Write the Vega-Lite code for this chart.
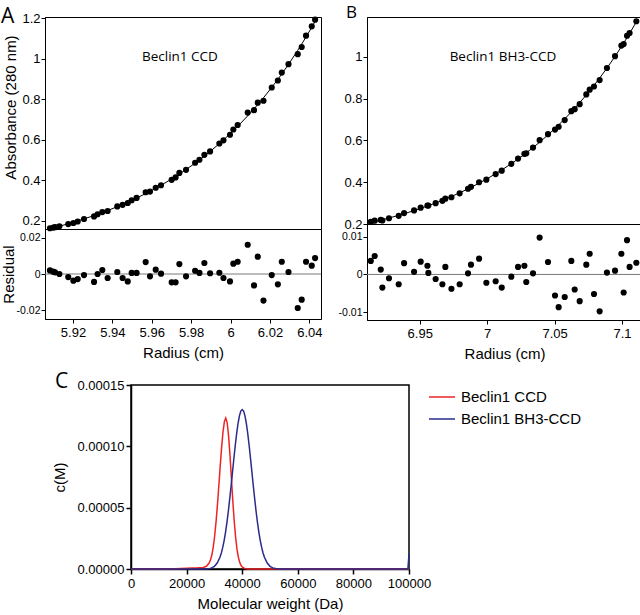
{
  "$schema": "https://vega.github.io/schema/vega-lite/v6.json",
  "background": "white",
  "padding": {"left": 0, "top": 3, "right": 0, "bottom": 0},
  "config": {
    "font": "Liberation Sans",
    "view": {"stroke": "black", "strokeWidth": 1},
    "axis": {"labelFont": "Liberation Sans", "titleFont": "Liberation Sans", "labelColor": "black", "titleColor": "black", "titleFontWeight": "normal", "grid": false, "domainColor": "black", "tickColor": "black", "labelFontSize": 13, "titleFontSize": 15, "tickSize": 4, "labelPadding": 1, "labelOverlap": false, "labelFlush": false},
    "title": {"font": "Open Sans", "fontWeight": "normal", "fontSize": 21, "anchor": "start", "frame": "group", "offset": 0, "baseline": "alphabetic", "color": "black"},
    "circle": {"color": "black", "opacity": 1, "size": 38}
  },
  "datasets": {
    "a": [
      {"r": 5.9083, "abs": 0.1640, "fit": 0.1620, "res": 0.0020},
      {"r": 5.9100, "abs": 0.1675, "fit": 0.1662, "res": 0.0013},
      {"r": 5.9109, "abs": 0.1694, "fit": 0.1685, "res": 0.0009},
      {"r": 5.9131, "abs": 0.1742, "fit": 0.1742, "res": 0.0000},
      {"r": 5.9176, "abs": 0.1847, "fit": 0.1864, "res": -0.0017},
      {"r": 5.9202, "abs": 0.1902, "fit": 0.1939, "res": -0.0037},
      {"r": 5.9224, "abs": 0.1976, "fit": 0.2004, "res": -0.0028},
      {"r": 5.9256, "abs": 0.2097, "fit": 0.2103, "res": -0.0006},
      {"r": 5.9307, "abs": 0.2226, "fit": 0.2270, "res": -0.0044},
      {"r": 5.9325, "abs": 0.2332, "fit": 0.2332, "res": 0.0000},
      {"r": 5.9349, "abs": 0.2439, "fit": 0.2417, "res": 0.0022},
      {"r": 5.9376, "abs": 0.2494, "fit": 0.2516, "res": -0.0022},
      {"r": 5.9425, "abs": 0.2718, "fit": 0.2707, "res": 0.0011},
      {"r": 5.9452, "abs": 0.2796, "fit": 0.2818, "res": -0.0022},
      {"r": 5.9478, "abs": 0.2888, "fit": 0.2929, "res": -0.0041},
      {"r": 5.9498, "abs": 0.3023, "fit": 0.3017, "res": 0.0006},
      {"r": 5.9523, "abs": 0.3137, "fit": 0.3131, "res": 0.0006},
      {"r": 5.9569, "abs": 0.3418, "fit": 0.3352, "res": 0.0066},
      {"r": 5.9591, "abs": 0.3450, "fit": 0.3463, "res": -0.0013},
      {"r": 5.9620, "abs": 0.3639, "fit": 0.3615, "res": 0.0024},
      {"r": 5.9647, "abs": 0.3764, "fit": 0.3762, "res": 0.0002},
      {"r": 5.9701, "abs": 0.4029, "fit": 0.4075, "res": -0.0046},
      {"r": 5.9721, "abs": 0.4151, "fit": 0.4197, "res": -0.0046},
      {"r": 5.9740, "abs": 0.4371, "fit": 0.4316, "res": 0.0055},
      {"r": 5.9774, "abs": 0.4525, "fit": 0.4538, "res": -0.0013},
      {"r": 5.9820, "abs": 0.4874, "fit": 0.4856, "res": 0.0018},
      {"r": 5.9842, "abs": 0.5022, "fit": 0.5016, "res": 0.0006},
      {"r": 5.9867, "abs": 0.5265, "fit": 0.5204, "res": 0.0061},
      {"r": 5.9896, "abs": 0.5434, "fit": 0.5430, "res": 0.0004},
      {"r": 5.9943, "abs": 0.5825, "fit": 0.5818, "res": 0.0007},
      {"r": 5.9964, "abs": 0.5979, "fit": 0.6001, "res": -0.0022},
      {"r": 5.9997, "abs": 0.6257, "fit": 0.6298, "res": -0.0041},
      {"r": 6.0014, "abs": 0.6515, "fit": 0.6458, "res": 0.0057},
      {"r": 6.0036, "abs": 0.6737, "fit": 0.6669, "res": 0.0068},
      {"r": 6.0087, "abs": 0.7349, "fit": 0.7187, "res": 0.0162},
      {"r": 6.0119, "abs": 0.7468, "fit": 0.7531, "res": -0.0063},
      {"r": 6.0138, "abs": 0.7840, "fit": 0.7744, "res": 0.0096},
      {"r": 6.0167, "abs": 0.7932, "fit": 0.8079, "res": -0.0147},
      {"r": 6.0209, "abs": 0.8585, "fit": 0.8591, "res": -0.0006},
      {"r": 6.0240, "abs": 0.8933, "fit": 0.8990, "res": -0.0057},
      {"r": 6.0260, "abs": 0.9324, "fit": 0.9256, "res": 0.0068},
      {"r": 6.0294, "abs": 0.9739, "fit": 0.9728, "res": 0.0011},
      {"r": 6.0341, "abs": 1.0231, "fit": 1.0419, "res": -0.0188},
      {"r": 6.0361, "abs": 1.0586, "fit": 1.0728, "res": -0.0142},
      {"r": 6.0383, "abs": 1.1146, "fit": 1.1078, "res": 0.0068},
      {"r": 6.0412, "abs": 1.1603, "fit": 1.1557, "res": 0.0046},
      {"r": 6.0429, "abs": 1.1935, "fit": 1.1847, "res": 0.0088}
    ],
    "b": [
      {"r": 6.9137, "abs": 0.2101, "fit": 0.2065, "res": 0.0036},
      {"r": 6.9166, "abs": 0.2159, "fit": 0.2110, "res": 0.0049},
      {"r": 6.9211, "abs": 0.2195, "fit": 0.2182, "res": 0.0013},
      {"r": 6.9223, "abs": 0.2166, "fit": 0.2201, "res": -0.0035},
      {"r": 6.9272, "abs": 0.2275, "fit": 0.2285, "res": -0.0010},
      {"r": 6.9344, "abs": 0.2389, "fit": 0.2415, "res": -0.0026},
      {"r": 6.9384, "abs": 0.2521, "fit": 0.2491, "res": 0.0030},
      {"r": 6.9458, "abs": 0.2648, "fit": 0.2641, "res": 0.0007},
      {"r": 6.9507, "abs": 0.2781, "fit": 0.2747, "res": 0.0034},
      {"r": 6.9557, "abs": 0.2884, "fit": 0.2861, "res": 0.0023},
      {"r": 6.9564, "abs": 0.2881, "fit": 0.2877, "res": 0.0004},
      {"r": 6.9618, "abs": 0.2995, "fit": 0.3007, "res": -0.0012},
      {"r": 6.9668, "abs": 0.3109, "fit": 0.3135, "res": -0.0026},
      {"r": 6.9690, "abs": 0.3213, "fit": 0.3193, "res": 0.0020},
      {"r": 6.9735, "abs": 0.3278, "fit": 0.3316, "res": -0.0038},
      {"r": 6.9796, "abs": 0.3465, "fit": 0.3491, "res": -0.0026},
      {"r": 6.9858, "abs": 0.3685, "fit": 0.3682, "res": 0.0003},
      {"r": 6.9880, "abs": 0.3778, "fit": 0.3752, "res": 0.0026},
      {"r": 6.9940, "abs": 0.3995, "fit": 0.3953, "res": 0.0042},
      {"r": 6.9994, "abs": 0.4122, "fit": 0.4144, "res": -0.0022},
      {"r": 7.0063, "abs": 0.4386, "fit": 0.4404, "res": -0.0018},
      {"r": 7.0108, "abs": 0.4549, "fit": 0.4584, "res": -0.0035},
      {"r": 7.0179, "abs": 0.4878, "fit": 0.4884, "res": -0.0006},
      {"r": 7.0229, "abs": 0.5130, "fit": 0.5110, "res": 0.0020},
      {"r": 7.0276, "abs": 0.5355, "fit": 0.5332, "res": 0.0023},
      {"r": 7.0290, "abs": 0.5381, "fit": 0.5401, "res": -0.0020},
      {"r": 7.0340, "abs": 0.5656, "fit": 0.5653, "res": 0.0003},
      {"r": 7.0389, "abs": 0.6011, "fit": 0.5913, "res": 0.0098},
      {"r": 7.0451, "abs": 0.6295, "fit": 0.6262, "res": 0.0033},
      {"r": 7.0503, "abs": 0.6515, "fit": 0.6571, "res": -0.0056},
      {"r": 7.0530, "abs": 0.6652, "fit": 0.6739, "res": -0.0087},
      {"r": 7.0575, "abs": 0.6968, "fit": 0.7028, "res": -0.0060},
      {"r": 7.0624, "abs": 0.7395, "fit": 0.7359, "res": 0.0036},
      {"r": 7.0649, "abs": 0.7494, "fit": 0.7534, "res": -0.0040},
      {"r": 7.0686, "abs": 0.7731, "fit": 0.7802, "res": -0.0071},
      {"r": 7.0735, "abs": 0.8198, "fit": 0.8172, "res": 0.0026},
      {"r": 7.0760, "abs": 0.8423, "fit": 0.8368, "res": 0.0055},
      {"r": 7.0792, "abs": 0.8575, "fit": 0.8627, "res": -0.0052},
      {"r": 7.0834, "abs": 0.8881, "fit": 0.8979, "res": -0.0098},
      {"r": 7.0888, "abs": 0.9460, "fit": 0.9455, "res": 0.0005},
      {"r": 7.0948, "abs": 1.0025, "fit": 1.0015, "res": 0.0010},
      {"r": 7.0995, "abs": 1.0534, "fit": 1.0479, "res": 0.0055},
      {"r": 7.1012, "abs": 1.0604, "fit": 1.0652, "res": -0.0048},
      {"r": 7.1037, "abs": 1.1003, "fit": 1.0912, "res": 0.0091},
      {"r": 7.1056, "abs": 1.1134, "fit": 1.1114, "res": 0.0020},
      {"r": 7.1106, "abs": 1.1697, "fit": 1.1666, "res": 0.0031}
    ],
    "c": [
      {"sample": "Beclin1 CCD", "mw": 0, "c": 0},
      {"sample": "Beclin1 CCD", "mw": 14000, "c": 0},
      {"sample": "Beclin1 CCD", "mw": 16000, "c": 0.0000002},
      {"sample": "Beclin1 CCD", "mw": 20000, "c": 0.0000007},
      {"sample": "Beclin1 CCD", "mw": 24000, "c": 0.000001},
      {"sample": "Beclin1 CCD", "mw": 26000, "c": 0.0000013},
      {"sample": "Beclin1 CCD", "mw": 27100, "c": 0.0000022},
      {"sample": "Beclin1 CCD", "mw": 28100, "c": 0.0000048},
      {"sample": "Beclin1 CCD", "mw": 28600, "c": 0.0000075},
      {"sample": "Beclin1 CCD", "mw": 29100, "c": 0.0000116},
      {"sample": "Beclin1 CCD", "mw": 29600, "c": 0.0000181},
      {"sample": "Beclin1 CCD", "mw": 30100, "c": 0.0000271},
      {"sample": "Beclin1 CCD", "mw": 30600, "c": 0.0000386},
      {"sample": "Beclin1 CCD", "mw": 31100, "c": 0.0000525},
      {"sample": "Beclin1 CCD", "mw": 31600, "c": 0.0000681},
      {"sample": "Beclin1 CCD", "mw": 32100, "c": 0.0000843},
      {"sample": "Beclin1 CCD", "mw": 32600, "c": 0.0000994},
      {"sample": "Beclin1 CCD", "mw": 33100, "c": 0.0001119},
      {"sample": "Beclin1 CCD", "mw": 33600, "c": 0.0001202},
      {"sample": "Beclin1 CCD", "mw": 34100, "c": 0.000123},
      {"sample": "Beclin1 CCD", "mw": 34600, "c": 0.0001192},
      {"sample": "Beclin1 CCD", "mw": 35100, "c": 0.0001085},
      {"sample": "Beclin1 CCD", "mw": 35600, "c": 0.0000929},
      {"sample": "Beclin1 CCD", "mw": 36100, "c": 0.0000746},
      {"sample": "Beclin1 CCD", "mw": 36600, "c": 0.0000563},
      {"sample": "Beclin1 CCD", "mw": 37100, "c": 0.00004},
      {"sample": "Beclin1 CCD", "mw": 37600, "c": 0.0000266},
      {"sample": "Beclin1 CCD", "mw": 38100, "c": 0.0000166},
      {"sample": "Beclin1 CCD", "mw": 38600, "c": 0.0000098},
      {"sample": "Beclin1 CCD", "mw": 39100, "c": 0.0000054},
      {"sample": "Beclin1 CCD", "mw": 39600, "c": 0.0000028},
      {"sample": "Beclin1 CCD", "mw": 40100, "c": 0.0000014},
      {"sample": "Beclin1 CCD", "mw": 41000, "c": 0.0000003},
      {"sample": "Beclin1 CCD", "mw": 42000, "c": 0},
      {"sample": "Beclin1 CCD", "mw": 100000, "c": 0},
      {"sample": "Beclin1 BH3-CCD", "mw": 0, "c": 0},
      {"sample": "Beclin1 BH3-CCD", "mw": 27000, "c": 0},
      {"sample": "Beclin1 BH3-CCD", "mw": 28000, "c": 0.00000013},
      {"sample": "Beclin1 BH3-CCD", "mw": 29000, "c": 0.00000093},
      {"sample": "Beclin1 BH3-CCD", "mw": 30000, "c": 0.0000022},
      {"sample": "Beclin1 BH3-CCD", "mw": 31000, "c": 0.0000048},
      {"sample": "Beclin1 BH3-CCD", "mw": 32000, "c": 0.0000095},
      {"sample": "Beclin1 BH3-CCD", "mw": 32500, "c": 0.0000131},
      {"sample": "Beclin1 BH3-CCD", "mw": 33000, "c": 0.0000176},
      {"sample": "Beclin1 BH3-CCD", "mw": 33500, "c": 0.0000232},
      {"sample": "Beclin1 BH3-CCD", "mw": 34000, "c": 0.0000299},
      {"sample": "Beclin1 BH3-CCD", "mw": 34500, "c": 0.0000378},
      {"sample": "Beclin1 BH3-CCD", "mw": 35000, "c": 0.0000469},
      {"sample": "Beclin1 BH3-CCD", "mw": 35500, "c": 0.0000569},
      {"sample": "Beclin1 BH3-CCD", "mw": 36000, "c": 0.0000677},
      {"sample": "Beclin1 BH3-CCD", "mw": 36500, "c": 0.0000788},
      {"sample": "Beclin1 BH3-CCD", "mw": 37000, "c": 0.00009},
      {"sample": "Beclin1 BH3-CCD", "mw": 37500, "c": 0.0001007},
      {"sample": "Beclin1 BH3-CCD", "mw": 38000, "c": 0.0001104},
      {"sample": "Beclin1 BH3-CCD", "mw": 38500, "c": 0.0001186},
      {"sample": "Beclin1 BH3-CCD", "mw": 39000, "c": 0.0001248},
      {"sample": "Beclin1 BH3-CCD", "mw": 39500, "c": 0.0001287},
      {"sample": "Beclin1 BH3-CCD", "mw": 40000, "c": 0.00013},
      {"sample": "Beclin1 BH3-CCD", "mw": 40500, "c": 0.0001287},
      {"sample": "Beclin1 BH3-CCD", "mw": 41000, "c": 0.0001248},
      {"sample": "Beclin1 BH3-CCD", "mw": 41500, "c": 0.0001186},
      {"sample": "Beclin1 BH3-CCD", "mw": 42000, "c": 0.0001104},
      {"sample": "Beclin1 BH3-CCD", "mw": 42500, "c": 0.0001007},
      {"sample": "Beclin1 BH3-CCD", "mw": 43000, "c": 0.00009},
      {"sample": "Beclin1 BH3-CCD", "mw": 43500, "c": 0.0000788},
      {"sample": "Beclin1 BH3-CCD", "mw": 44000, "c": 0.0000677},
      {"sample": "Beclin1 BH3-CCD", "mw": 44500, "c": 0.0000569},
      {"sample": "Beclin1 BH3-CCD", "mw": 45000, "c": 0.0000469},
      {"sample": "Beclin1 BH3-CCD", "mw": 45500, "c": 0.0000378},
      {"sample": "Beclin1 BH3-CCD", "mw": 46000, "c": 0.0000299},
      {"sample": "Beclin1 BH3-CCD", "mw": 46500, "c": 0.0000232},
      {"sample": "Beclin1 BH3-CCD", "mw": 47000, "c": 0.0000176},
      {"sample": "Beclin1 BH3-CCD", "mw": 47500, "c": 0.0000131},
      {"sample": "Beclin1 BH3-CCD", "mw": 48000, "c": 0.0000095},
      {"sample": "Beclin1 BH3-CCD", "mw": 49000, "c": 0.0000048},
      {"sample": "Beclin1 BH3-CCD", "mw": 50000, "c": 0.0000022},
      {"sample": "Beclin1 BH3-CCD", "mw": 51000, "c": 0.00000093},
      {"sample": "Beclin1 BH3-CCD", "mw": 52000, "c": 0.00000036},
      {"sample": "Beclin1 BH3-CCD", "mw": 53000, "c": 0.00000013},
      {"sample": "Beclin1 BH3-CCD", "mw": 54000, "c": 0},
      {"sample": "Beclin1 BH3-CCD", "mw": 99600, "c": 0},
      {"sample": "Beclin1 BH3-CCD", "mw": 100000, "c": 0.000012}
    ]
  },
  "vconcat": [
    {
      "spacing": 14,
      "hconcat": [
        {
          "bounds": "flush",
          "spacing": 0,
          "vconcat": [
            {
              "width": 276,
              "height": 212,
              "title": {"text": "A", "dx": -44, "offset": -15},
              "layer": [
                {
                  "data": {"name": "a"},
                  "mark": {"type": "line", "color": "black", "strokeWidth": 1},
                  "encoding": {
                    "x": {"field": "r", "type": "quantitative", "scale": {"domain": [5.9058, 6.0459], "nice": false, "zero": false}, "axis": null},
                    "y": {"field": "fit", "type": "quantitative", "title": "Absorbance (280 nm)", "scale": {"domain": [0.1605, 1.2065], "nice": false, "zero": false}, "axis": {"values": [0.2, 0.4, 0.6, 0.8, 1, 1.2], "format": "~g", "titleX": -27, "titleY": 90}}
                  }
                },
                {
                  "data": {"name": "a"},
                  "mark": {"type": "circle"},
                  "encoding": {
                    "x": {"field": "r", "type": "quantitative"},
                    "y": {"field": "abs", "type": "quantitative", "title": "Absorbance (280 nm)"}
                  }
                },
                {
                  "data": {"values": [{"label": "Beclin1 CCD"}]},
                  "mark": {"type": "text", "font": "Open Sans", "fontSize": 13.5, "baseline": "middle", "color": "black"},
                  "encoding": {
                    "x": {"datum": 5.9743, "type": "quantitative"},
                    "y": {"datum": 1.01, "type": "quantitative"},
                    "text": {"field": "label"}
                  }
                }
              ]
            },
            {
              "width": 276,
              "height": 90,
              "layer": [
                {
                  "data": {"values": [{"zero": 0}]},
                  "mark": {"type": "rule", "color": "#7a7a7a", "strokeWidth": 1},
                  "encoding": {
                    "y": {"field": "zero", "type": "quantitative", "title": "Residual"}
                  }
                },
                {
                  "data": {"name": "a"},
                  "mark": {"type": "circle"},
                  "encoding": {
                    "x": {"field": "r", "type": "quantitative", "title": "Radius (cm)", "scale": {"domain": [5.9058, 6.0459], "nice": false, "zero": false}, "axis": {"values": [5.92, 5.94, 5.96, 5.98, 6, 6.02, 6.04], "format": "~g", "labelPadding": 3, "titlePadding": 6}},
                    "y": {"field": "res", "type": "quantitative", "title": "Residual", "scale": {"domain": [-0.0249, 0.0249], "nice": false, "zero": false}, "axis": {"values": [-0.02, 0, 0.02], "format": "~g", "labelExpr": "replace(datum.label, '−', '-')", "labelFontSize": 10.5, "titleX": -29, "titleY": 45}}
                  }
                }
              ]
            }
          ]
        },
        {
          "bounds": "flush",
          "spacing": 0,
          "vconcat": [
            {
              "width": 275,
              "height": 207,
              "title": {"text": "B", "dx": -21, "offset": -5, "fontSize": 17},
              "layer": [
                {
                  "data": {"name": "b"},
                  "mark": {"type": "line", "color": "black", "strokeWidth": 1},
                  "encoding": {
                    "x": {"field": "r", "type": "quantitative", "scale": {"domain": [6.9109, 7.1148], "nice": false, "zero": false}, "axis": null},
                    "y": {"field": "fit", "type": "quantitative", "title": null, "scale": {"domain": [0.2, 1.19], "nice": false, "zero": false}, "axis": {"values": [0.2, 0.4, 0.6, 0.8, 1], "format": "~g"}}
                  }
                },
                {
                  "data": {"name": "b"},
                  "mark": {"type": "circle"},
                  "encoding": {
                    "x": {"field": "r", "type": "quantitative"},
                    "y": {"field": "abs", "type": "quantitative", "title": null}
                  }
                },
                {
                  "data": {"values": [{"label": "Beclin1 BH3-CCD"}]},
                  "mark": {"type": "text", "font": "Open Sans", "fontSize": 13.5, "baseline": "middle", "color": "black"},
                  "encoding": {
                    "x": {"datum": 7.0117, "type": "quantitative"},
                    "y": {"datum": 1.0, "type": "quantitative"},
                    "text": {"field": "label"}
                  }
                }
              ]
            },
            {
              "width": 275,
              "height": 96,
              "layer": [
                {
                  "data": {"values": [{"zero": 0}]},
                  "mark": {"type": "rule", "color": "#7a7a7a", "strokeWidth": 1},
                  "encoding": {
                    "y": {"field": "zero", "type": "quantitative", "title": null}
                  }
                },
                {
                  "data": {"name": "b"},
                  "mark": {"type": "circle"},
                  "encoding": {
                    "x": {"field": "r", "type": "quantitative", "title": "Radius (cm)", "scale": {"domain": [6.9109, 7.1148], "nice": false, "zero": false}, "axis": {"values": [6.95, 7, 7.05, 7.1], "format": "~g", "labelPadding": 3, "titlePadding": 6}},
                    "y": {"field": "res", "type": "quantitative", "title": null, "scale": {"domain": [-0.0121, 0.0134], "nice": false, "zero": false}, "axis": {"values": [-0.01, 0, 0.01], "format": "~g", "labelExpr": "replace(datum.label, '−', '-')", "labelFontSize": 10.5}}
                  }
                }
              ]
            }
          ]
        }
      ]
    },
    {
      "spacing": 0,
      "hconcat": [
        {
          "width": 6,
          "height": 184,
          "view": {"stroke": null},
          "data": {"values": []},
          "mark": {"type": "rule"},
          "encoding": {}
        },
        {
          "width": 278,
          "height": 184,
          "view": {"stroke": "black", "strokeWidth": 1.5},
          "title": {"text": "C", "dx": -76, "offset": -13},
          "data": {"name": "c"},
          "mark": {"type": "line", "strokeWidth": 1.5},
          "encoding": {
            "x": {"field": "mw", "type": "quantitative", "title": "Molecular weight (Da)", "scale": {"domain": [0, 100000], "nice": false}, "axis": {"values": [0, 20000, 40000, 60000, 80000, 100000], "format": "d", "tickSize": 5, "tickWidth": 1.5, "domainWidth": 1.5, "labelPadding": 3, "titlePadding": 6}},
            "y": {"field": "c", "type": "quantitative", "title": "c(M)", "scale": {"domain": [0, 0.00015], "nice": false}, "axis": {"values": [0, 0.00005, 0.0001, 0.00015], "format": ".5f", "tickSize": 5, "tickWidth": 1.5, "domainWidth": 1.5, "labelPadding": 2, "titlePadding": 10}},
            "color": {"field": "sample", "type": "nominal", "scale": {"domain": ["Beclin1 CCD", "Beclin1 BH3-CCD"], "range": ["#ee2424", "#2b2b8c"]}, "legend": {"orient": "none", "legendX": 383, "legendY": 366, "title": null, "symbolType": "stroke", "symbolSize": 680, "symbolStrokeWidth": 1.5, "labelFont": "Liberation Sans", "labelFontSize": 15, "labelColor": "black", "labelOffset": 5, "rowPadding": -6}}
          }
        }
      ]
    }
  ],
  "spacing": 8
}
